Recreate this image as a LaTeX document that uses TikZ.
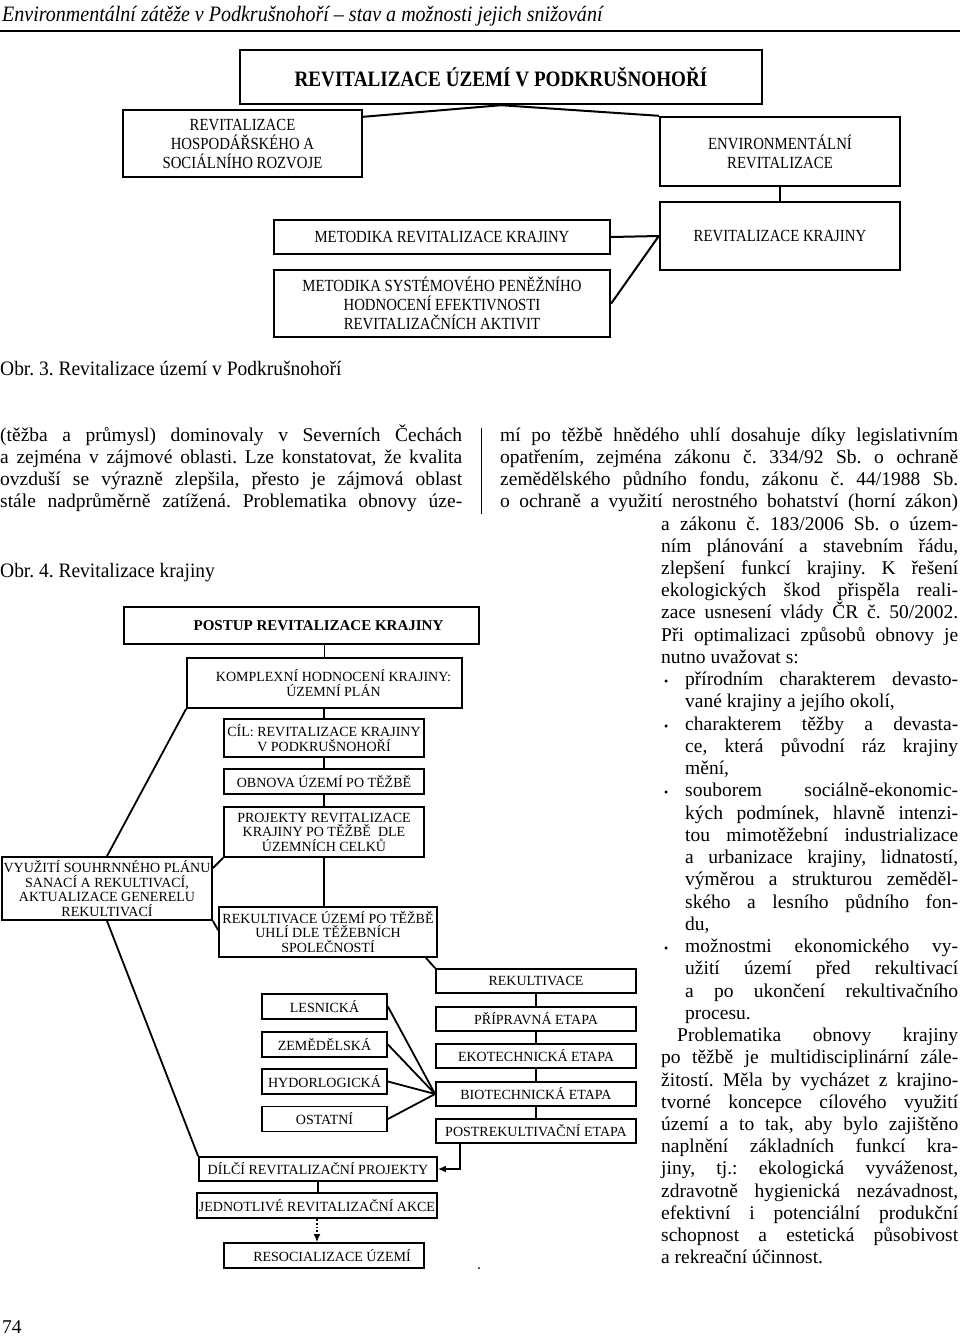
\documentclass[tikz,border=0pt]{standalone}
\usepackage{fontspec}
\setmainfont{Liberation Serif}
\newfontfamily\uzky[FakeStretch=0.87]{Liberation Serif}
\newfontfamily\popis[FakeStretch=0.95]{Liberation Serif}
\newfontfamily\zahlavi[FakeStretch=0.91]{Liberation Serif}
\usetikzlibrary{calc,arrows.meta}

\frenchspacing
\newcommand\telo{\fontsize{19.5}{22.24}\selectfont\lineskiplimit=-50pt}
\newcommand\radek[1]{\hbox to\hsize{#1}}
\newcommand\konec[1]{\hbox to\hsize{#1\hfil}}
\newcommand\bod[1]{\hbox to\hsize{\hbox to24pt{\hskip3pt{\fontsize{12}{12}\selectfont\textbullet}\hfil}#1}}
\newcommand\odsaz[1]{\hbox to\hsize{\hskip24pt #1}}
\newcommand\odsazkonec[1]{\hbox to\hsize{\hskip24pt #1\hfil}}

\begin{document}
\begin{tikzpicture}
	[x=1pt, y=-1pt,
	obr3/.style={draw, line width=2.4pt, inner sep=0pt, align=center,
		font=\uzky\fontsize{17}{19}\selectfont},
	krok/.style={draw, line width=1.8pt, inner sep=0pt, align=center,
		font=\fontsize{14}{14.5}\selectfont},
	sazba/.style={anchor=base west, inner sep=0pt}]
	\useasboundingbox (0,0) rectangle (960,1336);

	% zahlavi stranky
	\node[sazba, font=\zahlavi\itshape\fontsize{22}{24}\selectfont] (zahlavi) at (2,21)
		{Environmentální zátěže v Podkrušnohoří – stav a možnosti jejich snižování};
	\draw[line width=2.5pt] (0,31) -- (960,31);

	% Obr. 3
	\node[obr3, minimum width=522pt, minimum height=54pt,
		font=\uzky\bfseries\fontsize{22}{24}\selectfont] (titul) at (501,77)
		{REVITALIZACE ÚZEMÍ V PODKRUŠNOHOŘÍ};
	\node[obr3, minimum width=239pt, minimum height=67pt] (hosp) at (242.5,143.5)
		{REVITALIZACE\\HOSPODÁŘSKÉHO A\\SOCIÁLNÍHO ROZVOJE};
	\node[obr3, minimum width=240pt, minimum height=69pt] (envi) at (780,151.5)
		{ENVIRONMENTÁLNÍ\\REVITALIZACE};
	\node[obr3, minimum width=240pt, minimum height=68pt] (krajiny) at (780,236)
		{REVITALIZACE KRAJINY};
	\node[obr3, minimum width=336pt, minimum height=34pt] (metod) at (442,237)
		{METODIKA REVITALIZACE KRAJINY};
	\node[obr3, minimum width=336pt, minimum height=67pt] (penez) at (442,303.5)
		{METODIKA SYSTÉMOVÉHO PENĚŽNÍHO\\HODNOCENÍ EFEKTIVNOSTI\\REVITALIZAČNÍCH AKTIVIT};
	\draw[line width=2pt] (titul.south) -- ($(hosp.north east)+(0,8)$);
	\draw[line width=2pt] (titul.south) -- (envi.north west);
	\draw[line width=2pt] (envi.south) -- (krajiny.north);
	\draw[line width=2pt] (metod.east) -- (krajiny.west) -- (penez.east);
	\node[sazba, font=\popis\fontsize{20.5}{22}\selectfont] (obr3popis) at (0,375)
		{Obr. 3. Revitalizace území v Podkrušnohoří};

	% text ve dvou sloupcich
	\node[sazba] (levy) at (0,441) {\parbox[t]{462pt}{\telo
		\radek{(těžba a průmysl) dominovaly v Severních Čechách}
		\radek{a zejména v zájmové oblasti. Lze konstatovat, že kvalita}
		\radek{ovzduší se výrazně zlepšila, přesto je zájmová oblast}
		\radek{stále nadprůměrně zatížená. Problematika obnovy úze-}}};
	\draw[line width=0.8pt] (481,428) -- (481,514);
	\node[sazba] (pravy) at (500,441) {\parbox[t]{458pt}{\telo
		\radek{mí po těžbě hnědého uhlí dosahuje díky legislativním}
		\radek{opatřením, zejména zákonu č. 334/92 Sb. o ochraně}
		\radek{zemědělského půdního fondu, zákonu č. 44/1988 Sb.}
		\radek{o ochraně a využití nerostného bohatství (horní zákon)}}};
	\node[sazba] (pravyuzky) at (661,530) {\parbox[t]{297pt}{\telo
		\radek{a zákonu č. 183/2006 Sb. o územ-}
		\radek{ním plánování a stavebním řádu,}
		\radek{zlepšení funkcí krajiny. K řešení}
		\radek{ekologických škod přispěla reali-}
		\radek{zace usnesení vlády ČR č. 50/2002.}
		\radek{Při optimalizaci způsobů obnovy je}
		\konec{nutno uvažovat s:}
		\bod{přírodním charakterem devasto-}
		\odsazkonec{vané krajiny a jejího okolí,}
		\bod{charakterem těžby a devasta-}
		\odsaz{ce, která původní ráz krajiny}
		\odsazkonec{mění,}
		\bod{souborem sociálně-ekonomic-}
		\odsaz{kých podmínek, hlavně intenzi-}
		\odsaz{tou mimotěžební industrializace}
		\odsaz{a urbanizace krajiny, lidnatostí,}
		\odsaz{výměrou a strukturou zeměděl-}
		\odsaz{ského a lesního půdního fon-}
		\odsazkonec{du,}
		\bod{možnostmi ekonomického vy-}
		\odsaz{užití území před rekultivací}
		\odsaz{a po ukončení rekultivačního}
		\odsazkonec{procesu.}
		\radek{\hskip16pt Problematika obnovy krajiny}
		\radek{po těžbě je multidisciplinární zále-}
		\radek{žitostí. Měla by vycházet z krajino-}
		\radek{tvorné koncepce cílového využití}
		\radek{území a to tak, aby bylo zajištěno}
		\radek{naplnění základních funkcí kra-}
		\radek{jiny, tj.: ekologická vyváženost,}
		\radek{zdravotně hygienická nezávadnost,}
		\radek{efektivní i potenciální produkční}
		\radek{schopnost a estetická působivost}
		\konec{a rekreační účinnost.}}};

	% Obr. 4
	\node[sazba, font=\popis\fontsize{20.5}{22}\selectfont] (obr4popis) at (0,577)
		{Obr. 4. Revitalizace krajiny};
	\node[krok, minimum width=355pt, minimum height=37pt,
		font=\bfseries\fontsize{15}{16}\selectfont] (postup) at (301.5,625.5)
		{\hspace*{34pt}POSTUP REVITALIZACE KRAJINY};
	\node[krok, minimum width=275pt, minimum height=50pt] (komplex) at (324.5,683)
		{\hspace*{18pt}KOMPLEXNÍ HODNOCENÍ KRAJINY:\\\hspace*{18pt}ÚZEMNÍ PLÁN};
	\node[krok, minimum width=200pt, minimum height=38pt] (cil) at (324,738)
		{CÍL: REVITALIZACE KRAJINY\\V PODKRUŠNOHOŘÍ};
	\node[krok, minimum width=200pt, minimum height=25pt] (obnova) at (324,781.5)
		{OBNOVA ÚZEMÍ PO TĚŽBĚ};
	\node[krok, minimum width=200pt, minimum height=50pt] (projekty) at (324,832)
		{PROJEKTY REVITALIZACE\\KRAJINY PO TĚŽBĚ \ DLE\\ÚZEMNÍCH CELKŮ};
	\node[krok, minimum width=210pt, minimum height=63pt] (vyuziti) at (107,888.5)
		{VYUŽITÍ SOUHRNNÉHO PLÁNU\\SANACÍ A REKULTIVACÍ,\\AKTUALIZACE GENERELU\\REKULTIVACÍ};
	\node[krok, minimum width=218pt, minimum height=50pt] (rekuzemi) at (328,932)
		{REKULTIVACE ÚZEMÍ PO TĚŽBĚ\\UHLÍ DLE TĚŽEBNÍCH\\SPOLEČNOSTÍ};
	\node[krok, minimum width=125pt, minimum height=25pt] (lesnicka) at (324.5,1006.5) {LESNICKÁ};
	\node[krok, minimum width=125pt, minimum height=25pt] (zemedelska) at (324.5,1044.5) {ZEMĚDĚLSKÁ};
	\node[krok, minimum width=125pt, minimum height=25pt] (hydro) at (324.5,1081.5) {HYDORLOGICKÁ};
	\node[krok, minimum width=125pt, minimum height=25pt] (ostatni) at (324.5,1119) {OSTATNÍ};
	\node[krok, minimum width=200pt, minimum height=24pt] (rekultivace) at (536,981) {REKULTIVACE};
	\node[krok, minimum width=200pt, minimum height=24pt] (pripravna) at (536,1019) {PŘÍPRAVNÁ ETAPA};
	\node[krok, minimum width=200pt, minimum height=24pt] (ekotech) at (536,1056) {EKOTECHNICKÁ ETAPA};
	\node[krok, minimum width=200pt, minimum height=24pt] (biotech) at (536,1094) {BIOTECHNICKÁ ETAPA};
	\node[krok, minimum width=200pt, minimum height=24pt] (postrek) at (536,1131) {POSTREKULTIVAČNÍ ETAPA};
	\node[krok, minimum width=238pt, minimum height=24pt] (dilci) at (318,1169)
		{DÍLČÍ REVITALIZAČNÍ PROJEKTY};
	\node[krok, minimum width=240pt, minimum height=25pt] (jednotlive) at (317,1205.5)
		{JEDNOTLIVÉ REVITALIZAČNÍ AKCE};
	\node[krok, minimum width=200pt, minimum height=25pt] (resoc) at (324,1255.5)
		{\hspace*{16pt}RESOCIALIZACE ÚZEMÍ};

	\begin{scope}[line width=1.8pt]
		\draw (komplex.north) -- (komplex.north |- postup.south);
		\draw (cil.north) -- (cil.north |- komplex.south);
		\draw (obnova.north) -- (cil.south);
		\draw (projekty.north) -- (obnova.south);
		\draw (projekty.south) -- (projekty.south |- rekuzemi.north);
		\draw (komplex.south west) -- (vyuziti.north);
		\draw (projekty.south west) -- ($(vyuziti.north east)+(0,12)$);
		\draw (vyuziti.south east) -- ($(rekuzemi.north west)+(0,24)$);
		\draw (vyuziti.south) -- (dilci.north west);
		\draw ($(rekuzemi.south east)+(-12,0)$) -- (rekultivace.north west);
		\draw (rekultivace) -- (pripravna) -- (ekotech) -- (biotech) -- (postrek);
		\foreach \druh in {lesnicka,zemedelska,hydro,ostatni}
			\draw (\druh.east) -- (biotech.west);
		\draw[-{Latex[length=8pt,width=7pt]}] ($(postrek.south west)+(25,0)$) |- (dilci.east);
		\draw (dilci.south) -- (dilci.south |- jednotlive.north);
		\draw[dotted, -{Latex[length=8pt,width=7pt]}] (jednotlive.south) -- (jednotlive.south |- resoc.north);
	\end{scope}
	\fill (479,1268) circle (1pt);

	% cislo strany
	\node[sazba, font=\telo] (strana) at (2,1333) {74};
\end{tikzpicture}
\end{document}
